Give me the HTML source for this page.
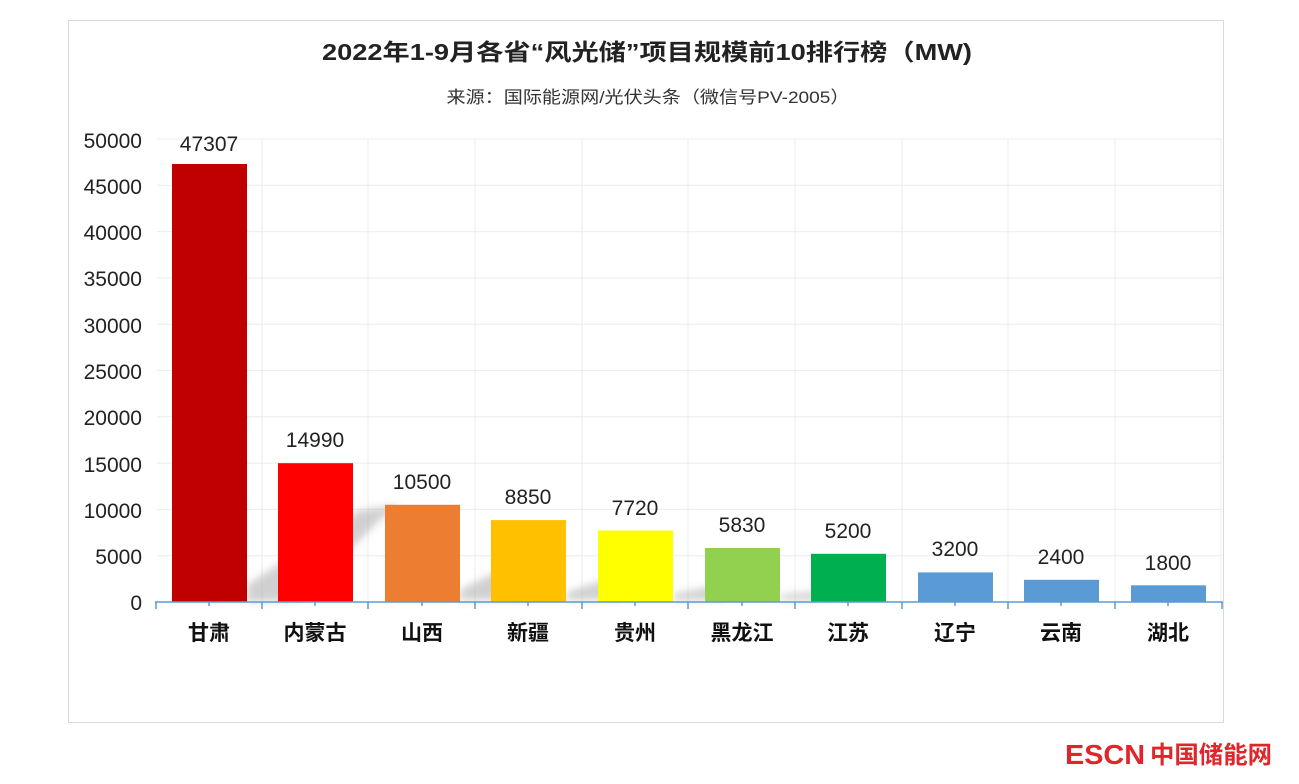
<!DOCTYPE html>
<html><head><meta charset="utf-8"><style>
html,body{margin:0;padding:0;background:#fff;width:1299px;height:784px;overflow:hidden}
svg text{font-family:"Liberation Sans","Noto Sans CJK SC",sans-serif}
</style></head><body>
<svg width="1299" height="784" xmlns="http://www.w3.org/2000/svg">
<defs><filter id="b" x="-20%" y="-20%" width="140%" height="140%"><feGaussianBlur stdDeviation="4"/></filter></defs>
<rect x="68.5" y="20.5" width="1155" height="702" fill="#fff" stroke="#d9d9d9"/>
<text x="647" y="60" font-size="23" font-weight="bold" text-anchor="middle" fill="#222" textLength="650" lengthAdjust="spacingAndGlyphs">2022年1-9月各省“风光储”项目规模前10排行榜（MW)</text>
<text x="648" y="103" font-size="17" text-anchor="middle" fill="#333" textLength="403" lengthAdjust="spacingAndGlyphs">来源：国际能源网/光伏头条（微信号PV-2005）</text>
<g stroke="#ececec" stroke-width="1">
<line x1="157" y1="139" x2="1222" y2="139"/><line x1="157" y1="185.3" x2="1222" y2="185.3"/><line x1="157" y1="231.6" x2="1222" y2="231.6"/><line x1="157" y1="277.9" x2="1222" y2="277.9"/><line x1="157" y1="324.2" x2="1222" y2="324.2"/><line x1="157" y1="370.5" x2="1222" y2="370.5"/><line x1="157" y1="416.8" x2="1222" y2="416.8"/><line x1="157" y1="463.1" x2="1222" y2="463.1"/><line x1="157" y1="509.4" x2="1222" y2="509.4"/><line x1="157" y1="555.7" x2="1222" y2="555.7"/>
<line x1="262" y1="139" x2="262" y2="602"/><line x1="368" y1="139" x2="368" y2="602"/><line x1="475" y1="139" x2="475" y2="602"/><line x1="582" y1="139" x2="582" y2="602"/><line x1="688" y1="139" x2="688" y2="602"/><line x1="795" y1="139" x2="795" y2="602"/><line x1="902" y1="139" x2="902" y2="602"/><line x1="1008" y1="139" x2="1008" y2="602"/><line x1="1115" y1="139" x2="1115" y2="602"/><line x1="1221" y1="139" x2="1221" y2="602"/>
</g>
<g fill="#999" opacity="0.45" filter="url(#b)">
<polygon points="247,602 247,585 360,510 400,505 380,520 300,600"/>
<polygon points="460,600 460,590 520,560 560,560 520,600"/>
<polygon points="567,600 567,592 620,575 660,575 620,600"/>
<polygon points="673,600 673,594 720,585 760,585 720,600"/>
<polygon points="780,600 780,595 830,590 860,592 820,600"/>
</g>
<g>
<rect x="172" y="164" width="75" height="438" fill="#c00000"/>
<rect x="278" y="463.2" width="75" height="138.8" fill="#ff0000"/>
<rect x="385" y="504.8" width="75" height="97.2" fill="#ed7d31"/>
<rect x="491" y="520.1" width="75" height="81.9" fill="#ffc000"/>
<rect x="598" y="530.5" width="75" height="71.5" fill="#ffff00"/>
<rect x="705" y="548" width="75" height="54" fill="#92d050"/>
<rect x="811" y="553.8" width="75" height="48.2" fill="#00b050"/>
<rect x="918" y="572.4" width="75" height="29.6" fill="#5b9bd5"/>
<rect x="1024" y="579.8" width="75" height="22.2" fill="#5b9bd5"/>
<rect x="1131" y="585.3" width="75" height="16.7" fill="#5b9bd5"/>
</g>
<g font-size="21" fill="#222" text-anchor="middle">
<text x="209" y="151">47307</text><text x="315" y="447">14990</text><text x="422" y="489">10500</text><text x="528" y="504">8850</text><text x="635" y="515">7720</text><text x="742" y="532">5830</text><text x="848" y="538">5200</text><text x="955" y="556">3200</text><text x="1061" y="564">2400</text><text x="1168" y="570">1800</text>
</g>
<g font-size="21" fill="#222" text-anchor="end">
<text x="142" y="148">50000</text><text x="142" y="194">45000</text><text x="142" y="240">40000</text><text x="142" y="286">35000</text><text x="142" y="333">30000</text><text x="142" y="379">25000</text><text x="142" y="425">20000</text><text x="142" y="472">15000</text><text x="142" y="518">10000</text><text x="142" y="564">5000</text><text x="142" y="610">0</text>
</g>
<g stroke="#5b9bd5" stroke-width="1.5">
<line x1="155" y1="602" x2="1223" y2="602"/>
<line x1="156" y1="602" x2="156" y2="609"/><line x1="262" y1="602" x2="262" y2="609"/><line x1="368" y1="602" x2="368" y2="609"/><line x1="475" y1="602" x2="475" y2="609"/><line x1="582" y1="602" x2="582" y2="609"/><line x1="688" y1="602" x2="688" y2="609"/><line x1="795" y1="602" x2="795" y2="609"/><line x1="902" y1="602" x2="902" y2="609"/><line x1="1008" y1="602" x2="1008" y2="609"/><line x1="1115" y1="602" x2="1115" y2="609"/><line x1="1222" y1="602" x2="1222" y2="609"/>
<line x1="209" y1="602" x2="209" y2="606"/><line x1="315" y1="602" x2="315" y2="606"/><line x1="422" y1="602" x2="422" y2="606"/><line x1="528" y1="602" x2="528" y2="606"/><line x1="635" y1="602" x2="635" y2="606"/><line x1="742" y1="602" x2="742" y2="606"/><line x1="848" y1="602" x2="848" y2="606"/><line x1="955" y1="602" x2="955" y2="606"/><line x1="1061" y1="602" x2="1061" y2="606"/><line x1="1168" y1="602" x2="1168" y2="606"/>
</g>
<g font-size="21" font-weight="bold" fill="#111" text-anchor="middle">
<text x="209" y="640">甘肃</text><text x="315" y="640">内蒙古</text><text x="422" y="640">山西</text><text x="528" y="640">新疆</text><text x="635" y="640">贵州</text><text x="742" y="640">黑龙江</text><text x="848" y="640">江苏</text><text x="955" y="640">辽宁</text><text x="1061" y="640">云南</text><text x="1168" y="640">湖北</text>
</g>
<text x="1065" y="764" font-size="28" font-weight="bold" fill="#e0262b" textLength="80" lengthAdjust="spacingAndGlyphs">ESCN</text>
<text x="1150" y="763" font-size="24" font-weight="bold" fill="#e0262b" textLength="122" lengthAdjust="spacingAndGlyphs">中国储能网</text>
</svg>
</body></html>
